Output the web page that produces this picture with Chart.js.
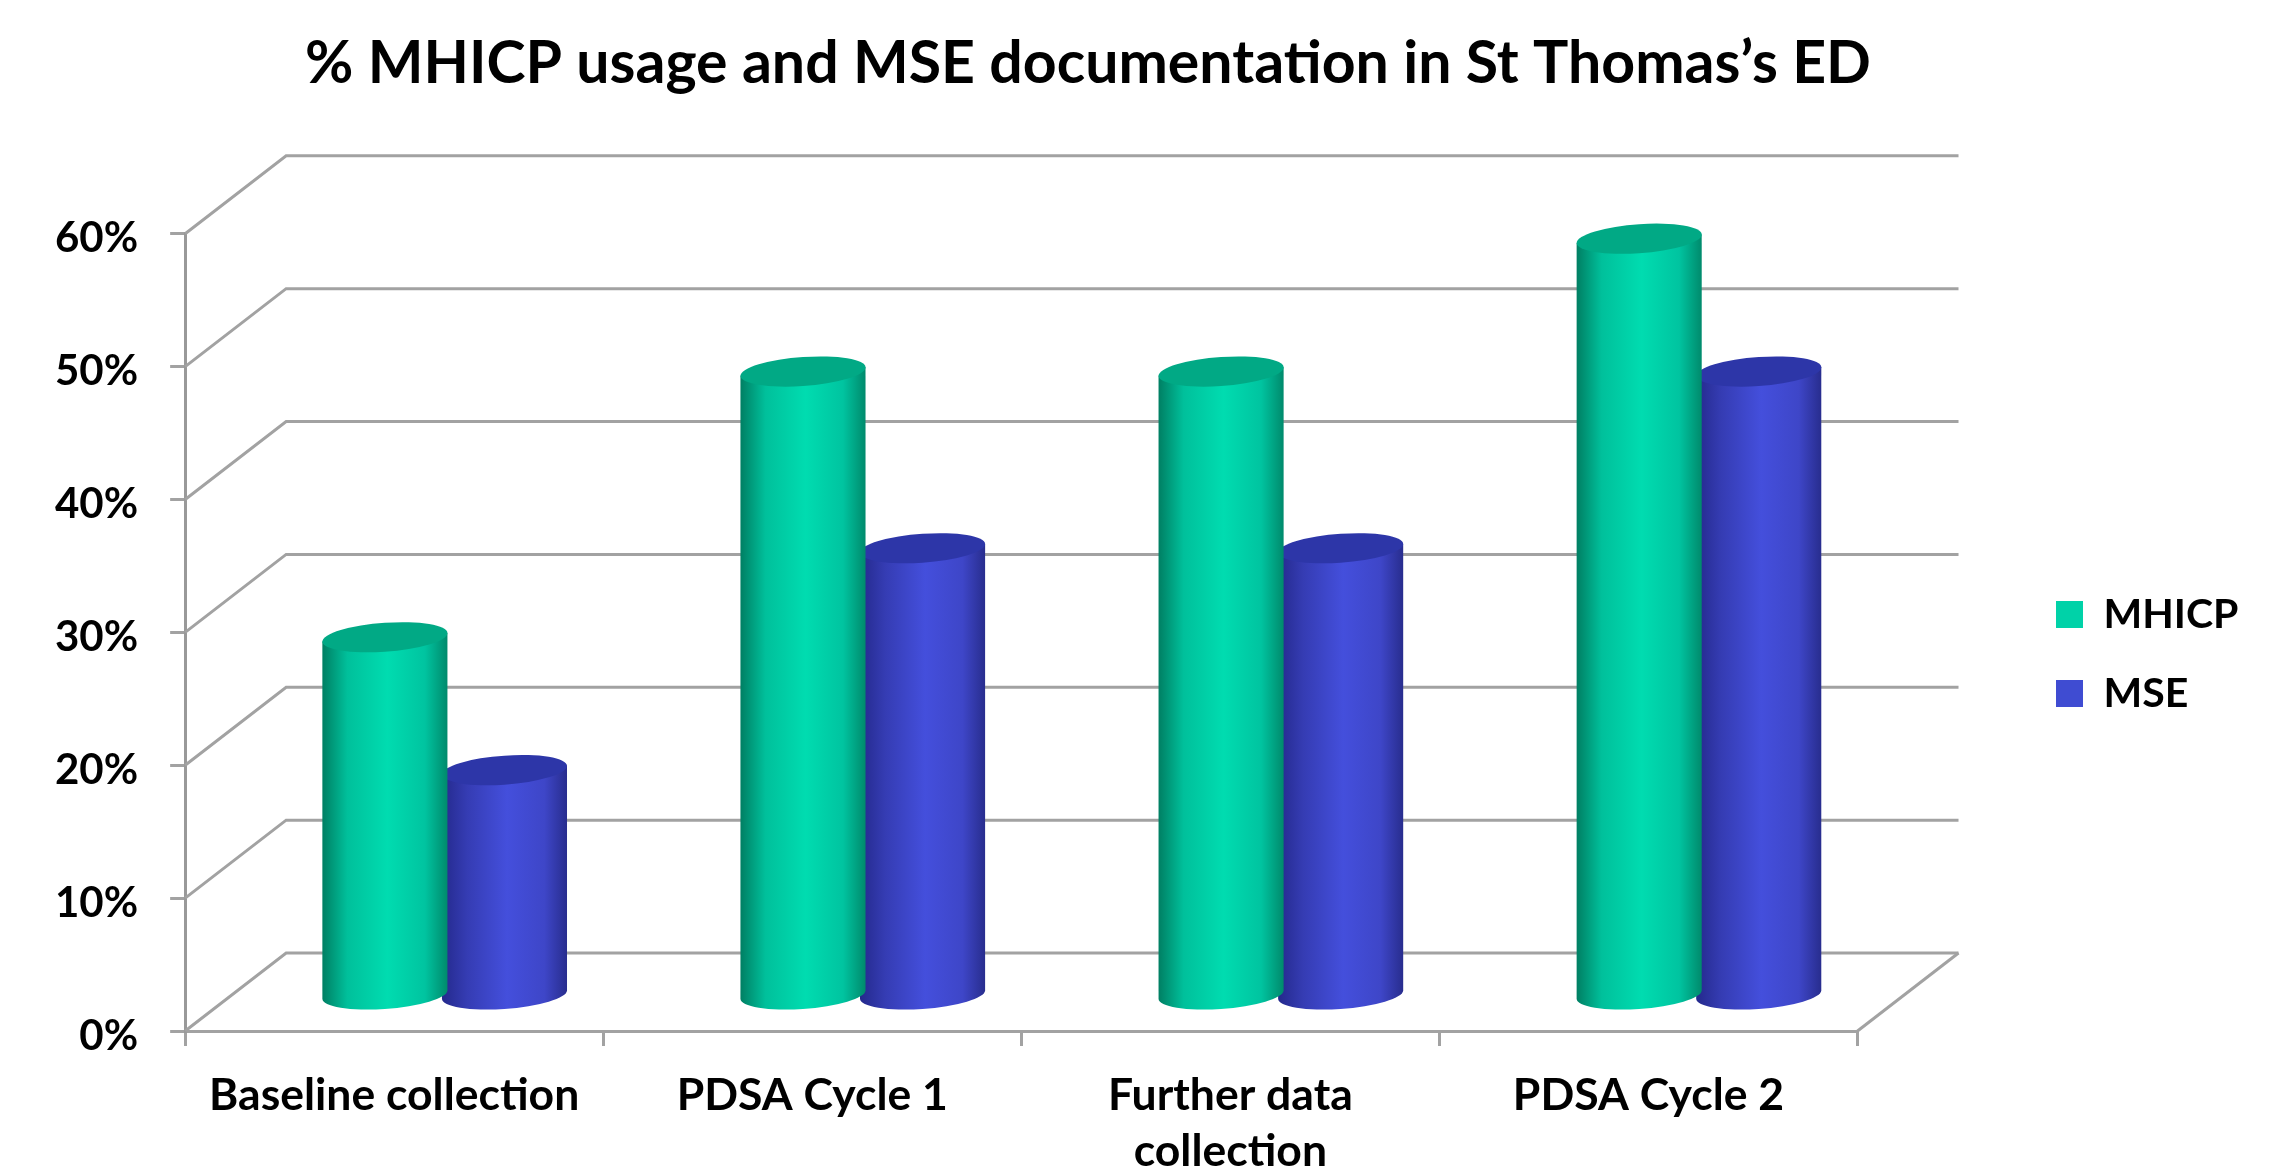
<!DOCTYPE html>
<html>
<head>
<meta charset="utf-8">
<title>MHICP usage and MSE documentation</title>
<script src="https://cdn.jsdelivr.net/npm/chart.js@4"></script>
<style>
  html, body { margin: 0; padding: 0; background: #fff; }
  canvas { display: block; }
</style>
</head>
<body>
<canvas id="myChart" width="2289" height="1169"></canvas>
<script>
const categories = ['Baseline collection', 'PDSA Cycle 1', ['Further data', 'collection'], 'PDSA Cycle 2'];
const mhicp = [27, 47, 47, 57];
const mse = [17, 33.7, 33.7, 47];

// depth of the fake 3D box, front corner to back wall
const depthX = 101;
const depthY = 78;
const lineGrey = '#a2a2a2';

const shades = [
  { edgeL: '#007f63', midL: '#00c09b', mid: '#00dcb0', midR: '#00c4a0', edgeR: '#008a6c', cap: '#01a985' },
  { edgeL: '#24298c', midL: '#353cb3', mid: '#444fdc', midR: '#3e46c8', edgeR: '#282d8e', cap: '#2d36a8' }
];

// one cylinder, sitting on the bar element the library laid out
function drawCylinder(ctx, bar, shade) {
  const rx = bar.width / 2;
  const ry = 14.5;
  const cx = bar.x + depthX / 2;
  const baseY = bar.base - 35;
  const h = bar.base - bar.y;

  const grad = ctx.createLinearGradient(cx - rx, 0, cx + rx, 0);
  grad.addColorStop(0, shade.edgeL);
  grad.addColorStop(0.2, shade.midL);
  grad.addColorStop(0.52, shade.mid);
  grad.addColorStop(0.82, shade.midR);
  grad.addColorStop(1, shade.edgeR);

  ctx.save();
  ctx.transform(1, -0.068, 0, 1, cx, baseY);
  ctx.beginPath();
  ctx.ellipse(0, 0, rx, ry, 0, 0, Math.PI);
  ctx.lineTo(-rx, -h);
  ctx.lineTo(rx, -h);
  ctx.closePath();
  ctx.restore();
  ctx.fillStyle = grad;
  ctx.fill();

  ctx.save();
  ctx.transform(1, -0.068, 0, 1, cx, baseY);
  ctx.beginPath();
  ctx.ellipse(0, -h, rx, ry, 0, 0, Math.PI * 2);
  ctx.restore();
  ctx.fillStyle = shade.cap;
  ctx.fill();
}

const box3d = {
  id: 'box3d',
  afterLayout(chart) {
    // title and legend do not sit where the layout puts them
    const t = chart.titleBlock;
    const shift = 1088 - (t.left + t.right) / 2;
    t.left += shift;
    t.right += shift;
    const l = chart.legend;
    l.left = 2018;
    l.right = 2289;
    l.top += 55;
    l.bottom += 55;
  },
  beforeDatasetsDraw(chart) {
    const { ctx, scales: { x, y } } = chart;
    ctx.save();
    ctx.strokeStyle = lineGrey;
    ctx.lineWidth = 3;
    y.ticks.forEach(t => {
      const py = y.getPixelForValue(t.value);
      ctx.beginPath();
      ctx.moveTo(x.left, py);
      ctx.lineTo(x.left + depthX, py - depthY);
      ctx.lineTo(x.right + depthX, py - depthY);
      ctx.stroke();
    });
    const floor = y.getPixelForValue(0);
    ctx.beginPath();
    ctx.moveTo(x.right, floor);
    ctx.lineTo(x.right + depthX, floor - depthY);
    ctx.stroke();
    ctx.restore();
  },
  beforeDatasetDraw(chart, args) {
    const meta = chart.getDatasetMeta(args.index);
    meta.data.forEach(bar => drawCylinder(chart.ctx, bar, shades[args.index]));
    return false;
  }
};

const ctx = document.getElementById('myChart').getContext('2d');
new Chart(ctx, {
  type: 'bar',
  plugins: [box3d],
  data: {
    labels: categories,
    datasets: [
      { label: 'MHICP', data: mhicp, backgroundColor: '#00d2a8', borderColor: '#00d2a8' },
      { label: 'MSE', data: mse, backgroundColor: '#3f4cd2', borderColor: '#3f4cd2' }
    ]
  },
  options: {
    responsive: false,
    animation: false,
    barPercentage: 1.046,
    categoryPercentage: 0.572,
    layout: { padding: { left: 23, right: 201, top: 29, bottom: 0 } },
    plugins: {
      title: {
        display: true,
        text: '% MHICP usage and MSE documentation in St Thomas\u2019s ED',
        color: '#000',
        font: { family: 'Lato', size: 59, weight: 'bold' },
        padding: { top: 0, bottom: 134 }
      },
      legend: {
        position: 'right',
        labels: {
          color: '#000',
          font: { family: 'Lato', size: 41, weight: 'bold' },
          boxWidth: 27,
          boxHeight: 27,
          padding: 38
        }
      },
      tooltip: { enabled: false }
    },
    scales: {
      x: {
        afterFit: s => { s.height = 138; },
        grid: { drawOnChartArea: false, offset: true, color: lineGrey, lineWidth: 3, tickLength: 15 },
        border: { color: lineGrey, width: 3 },
        ticks: { color: '#000', font: { family: 'Lato', size: 44.5, weight: 'bold', lineHeight: 1.25 }, maxRotation: 0, autoSkip: false, padding: 22 }
      },
      y: {
        min: 0,
        max: 60,
        grid: { drawOnChartArea: false, color: lineGrey, lineWidth: 3, tickLength: 15 },
        border: { color: '#999', width: 3 },
        ticks: { stepSize: 10, color: '#000', font: { family: 'Lato', size: 42, weight: 'bold' }, padding: 32, labelOffset: 5, callback: v => v + '%' }
      }
    }
  }
});
</script>
</body>
</html>
